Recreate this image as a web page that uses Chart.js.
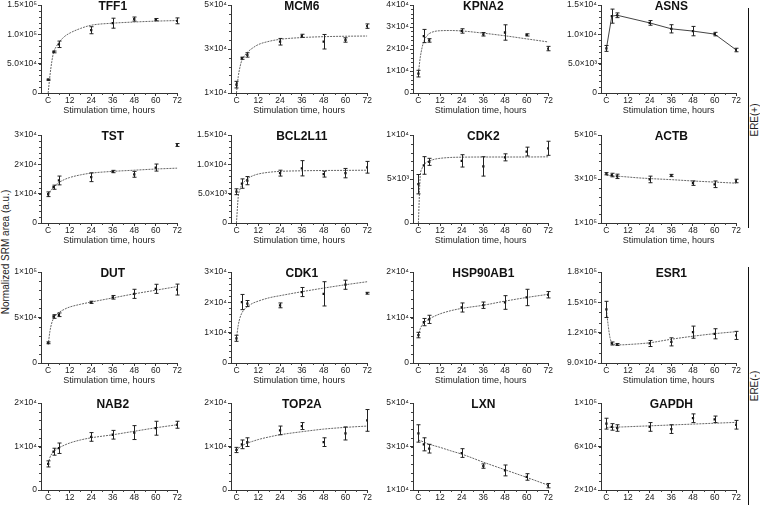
<!DOCTYPE html>
<html>
<head>
<meta charset="utf-8">
<script src="https://cdn.jsdelivr.net/npm/chart.js@4.4.0/dist/chart.umd.min.js"></script>
<style>
  body { margin: 0; background: #fff; width: 760px; height: 520px; position: relative; overflow: hidden;
         font-family: "Liberation Sans", Arial, sans-serif; color: #222; }
  canvas { position: absolute; }
  .rot { position: absolute; white-space: nowrap; font-size: 10px; line-height: 10px; transform: translate(-50%, -50%) rotate(-90deg); }
  .bracket { position: absolute; width: 0; border-left: 1.5px solid #111; }
</style>
</head>
<body>
<div class="rot" style="left:6px; top:252px;">Normalized SRM area (a.u.)</div>
<div class="bracket" style="left:748px; top:8px; height:220px;"></div>
<div class="rot" style="left:755px; top:120px;">ERE(+)</div>
<div class="bracket" style="left:748px; top:267px; height:238px;"></div>
<div class="rot" style="left:755px; top:386px;">ERE(-)</div>

<script>
// time points (C = control, plotted at 0)
const hours = [0, 3, 6, 24, 36, 48, 60, 72];
const fitHours = [0, 1, 2, 3, 4.5, 6, 9, 12, 18, 24, 36, 48, 60, 72];
const xTicks = [0, 12, 24, 36, 48, 60, 72];
const xTickLabels = ['C', '12', '24', '36', '48', '60', '72'];

// ERE(+)
const tff1Mean = [2.26e4, 7.0e4, 8.3e4, 1.07e5, 1.19e5, 1.26e5, 1.25e5, 1.23e5];
const tff1Err  = [1.0e3, 1.5e3, 5.5e3, 6.0e3, 8.5e3, 3.5e3, 2.0e3, 5.0e3];
const tff1Fit  = [0, 3.0e4, 5.3e4, 6.9e4, 7.9e4, 8.6e4, 9.6e4, 1.02e5, 1.10e5, 1.155e5, 1.19e5, 1.21e5, 1.225e5, 1.235e5];
const tff1Ticks = [0, 5e4, 1e5, 1.5e5];
const tff1Labels = ['0', '5.0×10⁴', '1.0×10⁵', '1.5×10⁵'];

const mcm6Mean = [1.38e4, 2.58e4, 2.73e4, 3.33e4, 3.6e4, 3.33e4, 3.41e4, 4.04e4];
const mcm6Err  = [1.5e3, 5e2, 1.0e3, 1.5e3, 7e2, 3.3e3, 1.0e3, 1.0e3];
const mcm6Fit  = [1.0e4, 1.75e4, 2.2e4, 2.5e4, 2.7e4, 2.85e4, 3.05e4, 3.2e4, 3.35e4, 3.44e4, 3.52e4, 3.56e4, 3.58e4, 3.59e4];
const mcm6Ticks = [1e4, 3e4, 5e4];
const mcm6Labels = ['1×10⁴', '3×10⁴', '5×10⁴'];

const kpna2Mean = [8.8e3, 2.59e4, 2.39e4, 2.82e4, 2.67e4, 2.75e4, 2.64e4, 2.02e4];
const kpna2Err  = [1.5e3, 3.0e3, 8e2, 1.0e3, 8e2, 3.5e3, 5e2, 1.0e3];
const kpna2Fit  = [0.9e4, 1.6e4, 2.05e4, 2.35e4, 2.58e4, 2.7e4, 2.8e4, 2.83e4, 2.84e4, 2.82e4, 2.72e4, 2.6e4, 2.46e4, 2.32e4];
const kpna2Ticks = [0, 1e4, 2e4, 3e4, 4e4];
const kpna2Labels = ['0', '1×10⁴', '2×10⁴', '3×10⁴', '4×10⁴'];

const asnsMean = [7.6e3, 1.31e4, 1.325e4, 1.195e4, 1.094e4, 1.055e4, 1.004e4, 7.33e3];
const asnsErr  = [5e2, 1.2e3, 4e2, 4e2, 7e2, 8e2, 3e2, 3e2];
const asnsTicks = [0, 5e3, 1e4, 1.5e4];
const asnsLabels = ['0', '5.0×10³', '1.0×10⁴', '1.5×10⁴'];

const tstMean = [9.8e3, 1.22e4, 1.45e4, 1.56e4, 1.755e4, 1.66e4, 1.89e4, 2.66e4];
const tstErr  = [8e2, 7e2, 1.5e3, 1.5e3, 4e2, 1.0e3, 1.2e3, 5e2];
const tstFit  = [0.95e4, 1.07e4, 1.15e4, 1.22e4, 1.31e4, 1.38e4, 1.48e4, 1.55e4, 1.64e4, 1.70e4, 1.76e4, 1.80e4, 1.84e4, 1.87e4];
const tstTicks = [0, 1e4, 2e4, 3e4];
const tstLabels = ['0', '1×10⁴', '2×10⁴', '3×10⁴'];

const bcl2l11Mean = [5.33e3, 6.72e3, 7.22e3, 8.5e3, 9.33e3, 8.33e3, 8.5e3, 9.5e3];
const bcl2l11Err  = [5e2, 8e2, 7e2, 5e2, 1.3e3, 5e2, 8e2, 1.0e3];
const bcl2l11Fit  = [0, 4.5e3, 5.8e3, 6.5e3, 7.1e3, 7.55e3, 8.05e3, 8.35e3, 8.65e3, 8.8e3, 8.9e3, 8.95e3, 8.97e3, 9.0e3];
const bcl2l11Ticks = [0, 5e3, 1e4, 1.5e4];
const bcl2l11Labels = ['0', '5.0×10³', '1.0×10⁴', '1.5×10⁴'];

const cdk2Mean = [4.41e3, 6.54e3, 6.95e3, 7.06e3, 6.43e3, 7.46e3, 8.12e3, 8.49e3];
const cdk2Err  = [1.1e3, 1.0e3, 4e2, 7e2, 1.1e3, 4e2, 5e2, 8e2];
const cdk2Fit  = [0, 5.3e3, 6.2e3, 6.6e3, 6.9e3, 7.05e3, 7.25e3, 7.35e3, 7.45e3, 7.48e3, 7.5e3, 7.5e3, 7.5e3, 7.52e3];
const cdk2Ticks = [0, 5e3, 1e4];
const cdk2Labels = ['0', '5×10³', '1×10⁴'];

const actbMean = [3.24e5, 3.18e5, 3.12e5, 2.98e5, 3.16e5, 2.81e5, 2.76e5, 2.91e5];
const actbErr  = [5e3, 8e3, 1.0e4, 1.5e4, 5e3, 1.0e4, 1.5e4, 8e3];
const actbFit  = [3.17e5, 3.16e5, 3.15e5, 3.15e5, 3.14e5, 3.13e5, 3.11e5, 3.09e5, 3.05e5, 3.02e5, 2.97e5, 2.91e5, 2.86e5, 2.81e5];
const actbTicks = [1e5, 3e5, 5e5];
const actbLabels = ['1×10⁵', '3×10⁵', '5×10⁵'];

// ERE(-)
const dutMean = [2.22e4, 5.11e4, 5.3e4, 6.67e4, 7.22e4, 7.6e4, 8.15e4, 8.07e4];
const dutErr  = [1.0e3, 2.0e3, 2.0e3, 1.2e3, 2.0e3, 5.0e3, 5.0e3, 6.0e3];
const dutFit  = [2.0e4, 3.5e4, 4.4e4, 4.9e4, 5.3e4, 5.55e4, 5.9e4, 6.15e4, 6.45e4, 6.7e4, 7.15e4, 7.6e4, 8.0e4, 8.4e4];
const dutTicks = [0, 5e4, 1e5];
const dutLabels = ['0', '5×10⁴', '1×10⁵'];

const cdk1Mean = [8.15e3, 2.01e4, 1.96e4, 1.9e4, 2.34e4, 2.28e4, 2.58e4, 2.3e4];
const cdk1Err  = [1.0e3, 2.5e3, 1.0e3, 8e2, 1.5e3, 4.0e3, 1.5e3, 3e2];
const cdk1Fit  = [0.8e4, 1.25e4, 1.5e4, 1.65e4, 1.78e4, 1.86e4, 1.97e4, 2.04e4, 2.15e4, 2.22e4, 2.35e4, 2.47e4, 2.58e4, 2.68e4];
const cdk1Ticks = [0, 1e4, 2e4, 3e4];
const cdk1Labels = ['0', '1×10⁴', '2×10⁴', '3×10⁴'];

const hspMean = [6.14e3, 8.99e3, 9.59e3, 1.22e4, 1.27e4, 1.33e4, 1.44e4, 1.5e4];
const hspErr  = [6e2, 8e2, 9e2, 1.0e3, 7e2, 1.5e3, 1.8e3, 7e2];
const hspFit  = [0.6e4, 0.75e4, 0.83e4, 0.88e4, 0.93e4, 0.97e4, 1.03e4, 1.08e4, 1.15e4, 1.2e4, 1.27e4, 1.36e4, 1.44e4, 1.51e4];
const hspTicks = [0, 1e4, 2e4];
const hspLabels = ['0', '1×10⁴', '2×10⁴'];

const esr1Mean = [1.43e5, 1.093e5, 1.083e5, 1.093e5, 1.109e5, 1.205e5, 1.189e5, 1.173e5];
const esr1Err  = [8.0e3, 1.5e3, 1.0e3, 3.0e3, 4.0e3, 6.0e3, 5.0e3, 4.0e3];
const esr1Fit  = [1.43e5, 1.27e5, 1.15e5, 1.10e5, 1.085e5, 1.08e5, 1.08e5, 1.083e5, 1.09e5, 1.10e5, 1.135e5, 1.165e5, 1.19e5, 1.21e5];
const esr1Ticks = [9e4, 1.2e5, 1.5e5, 1.8e5];
const esr1Labels = ['9.0×10⁴', '1.2×10⁵', '1.5×10⁵', '1.8×10⁵'];

const nab2Mean = [6.0e3, 8.8e3, 9.6e3, 1.22e4, 1.27e4, 1.32e4, 1.42e4, 1.5e4];
const nab2Err  = [7e2, 8e2, 1.2e3, 1.0e3, 1.0e3, 1.6e3, 1.6e3, 8e2];
const nab2Fit  = [0.6e4, 0.75e4, 0.83e4, 0.88e4, 0.93e4, 0.97e4, 1.03e4, 1.08e4, 1.15e4, 1.2e4, 1.27e4, 1.35e4, 1.43e4, 1.5e4];
const nab2Ticks = [0, 1e4, 2e4];
const nab2Labels = ['0', '1×10⁴', '2×10⁴'];

const top2aMean = [9.2e3, 1.05e4, 1.1e4, 1.37e4, 1.47e4, 1.1e4, 1.3e4, 1.6e4];
const top2aErr  = [6e2, 1.0e3, 1.0e3, 1.0e3, 8e2, 1.0e3, 1.5e3, 2.5e3];
const top2aFit  = [9.0e3, 9.5e3, 9.9e3, 1.02e4, 1.05e4, 1.08e4, 1.12e4, 1.16e4, 1.22e4, 1.27e4, 1.34e4, 1.4e4, 1.44e4, 1.47e4];
const top2aTicks = [0, 1e4, 2e4];
const top2aLabels = ['0', '1×10⁴', '2×10⁴'];

const lxnMean = [3.6e4, 3.1e4, 2.9e4, 2.7e4, 2.1e4, 1.9e4, 1.6e4, 1.2e4];
const lxnErr  = [4.0e3, 3.0e3, 2.0e3, 2.0e3, 1.0e3, 2.5e3, 1.5e3, 1.0e3];
const lxnFit  = [3.3e4, 3.27e4, 3.24e4, 3.2e4, 3.15e4, 3.1e4, 3.03e4, 2.96e4, 2.8e4, 2.65e4, 2.28e4, 1.93e4, 1.58e4, 1.22e4];
const lxnTicks = [1e4, 3e4, 5e4];
const lxnLabels = ['1×10⁴', '3×10⁴', '5×10⁴'];

const gapdhMean = [8.1e4, 7.8e4, 7.7e4, 7.8e4, 7.6e4, 8.6e4, 8.5e4, 8.0e4];
const gapdhErr  = [5.0e3, 3.0e3, 3.0e3, 4.0e3, 4.0e3, 4.0e3, 3.0e3, 4.0e3];
const gapdhFit  = [7.75e4, 7.76e4, 7.77e4, 7.77e4, 7.78e4, 7.79e4, 7.8e4, 7.82e4, 7.86e4, 7.9e4, 7.98e4, 8.06e4, 8.14e4, 8.22e4];
const gapdhTicks = [2e4, 6e4, 1e5];
const gapdhLabels = ['2×10⁴', '6×10⁴', '1×10⁵'];

const panels = [
  { gene: 'TFF1', mean: tff1Mean, err: tff1Err, fit: tff1Fit, ticks: tff1Ticks, labels: tff1Labels, minor: 1e4 },
  { gene: 'MCM6', mean: mcm6Mean, err: mcm6Err, fit: mcm6Fit, ticks: mcm6Ticks, labels: mcm6Labels, minor: 4e3 },
  { gene: 'KPNA2', mean: kpna2Mean, err: kpna2Err, fit: kpna2Fit, ticks: kpna2Ticks, labels: kpna2Labels, minor: 2e3 },
  { gene: 'ASNS', mean: asnsMean, err: asnsErr, fit: null, ticks: asnsTicks, labels: asnsLabels, minor: 1e3 },
  { gene: 'TST', mean: tstMean, err: tstErr, fit: tstFit, ticks: tstTicks, labels: tstLabels, minor: 2e3 },
  { gene: 'BCL2L11', mean: bcl2l11Mean, err: bcl2l11Err, fit: bcl2l11Fit, ticks: bcl2l11Ticks, labels: bcl2l11Labels, minor: 1e3 },
  { gene: 'CDK2', mean: cdk2Mean, err: cdk2Err, fit: cdk2Fit, ticks: cdk2Ticks, labels: cdk2Labels, minor: 1e3 },
  { gene: 'ACTB', mean: actbMean, err: actbErr, fit: actbFit, ticks: actbTicks, labels: actbLabels, minor: 4e4 },
  { gene: 'DUT', mean: dutMean, err: dutErr, fit: dutFit, ticks: dutTicks, labels: dutLabels, minor: 1e4 },
  { gene: 'CDK1', mean: cdk1Mean, err: cdk1Err, fit: cdk1Fit, ticks: cdk1Ticks, labels: cdk1Labels, minor: 2e3 },
  { gene: 'HSP90AB1', mean: hspMean, err: hspErr, fit: hspFit, ticks: hspTicks, labels: hspLabels, minor: 2e3 },
  { gene: 'ESR1', mean: esr1Mean, err: esr1Err, fit: esr1Fit, ticks: esr1Ticks, labels: esr1Labels, minor: 1e4 },
  { gene: 'NAB2', mean: nab2Mean, err: nab2Err, fit: nab2Fit, ticks: nab2Ticks, labels: nab2Labels, minor: 2e3 },
  { gene: 'TOP2A', mean: top2aMean, err: top2aErr, fit: top2aFit, ticks: top2aTicks, labels: top2aLabels, minor: 2e3 },
  { gene: 'LXN', mean: lxnMean, err: lxnErr, fit: lxnFit, ticks: lxnTicks, labels: lxnLabels, minor: 4e3 },
  { gene: 'GAPDH', mean: gapdhMean, err: gapdhErr, fit: gapdhFit, ticks: gapdhTicks, labels: gapdhLabels, minor: 8e3 }
];

// plot-area placement on the page
const colLeft = [41, 231, 413, 601];
const colRight = [178, 368, 549, 737];
const colXMin = [-4, -3, -3, -3];
const rowTop = [5, 135, 272, 403];
const rowBottom = [93, 223, 363, 490];

const Y_W = 40, PAD_T = 10, PAD_R = 4, X_H = 24;
const FONT = '"Liberation Sans", Arial, sans-serif';
const INK = '#222';

// error bars, minor ticks and the gene title
const panelExtras = {
  id: 'panelExtras',
  afterDatasetsDraw(chart) {
    const p = chart.options.plugins.panelExtras;
    const xs = chart.scales.x, ys = chart.scales.y;
    const ctx = chart.ctx;
    ctx.save();
    ctx.strokeStyle = INK;
    ctx.lineWidth = 1;
    p.mean.forEach((m, i) => {
      const x = Math.round(xs.getPixelForValue(hours[i])) + 0.5;
      const y1 = ys.getPixelForValue(m - p.err[i]);
      const y2 = ys.getPixelForValue(m + p.err[i]);
      ctx.beginPath();
      ctx.moveTo(x, y1); ctx.lineTo(x, y2);
      ctx.moveTo(x - 2, y1); ctx.lineTo(x + 2, y1);
      ctx.moveTo(x - 2, y2); ctx.lineTo(x + 2, y2);
      ctx.stroke();
    });
    // minor ticks
    ctx.strokeStyle = '#444';
    const a = chart.chartArea;
    ctx.beginPath();
    const yMin = p.ticks[0], yMax = p.ticks[p.ticks.length - 1];
    for (let v = yMin; v <= yMax + 1e-9; v += p.minor) {
      const y = Math.round(ys.getPixelForValue(v)) + 0.5;
      ctx.moveTo(a.left - 2, y); ctx.lineTo(a.left, y);
    }
    for (let h = 6; h < 72; h += 12) {
      const x = Math.round(xs.getPixelForValue(h)) + 0.5;
      ctx.moveTo(x, a.bottom); ctx.lineTo(x, a.bottom + 2);
    }
    ctx.stroke();
    // title
    ctx.fillStyle = '#111';
    ctx.font = 'bold 12px ' + FONT;
    ctx.textAlign = 'center';
    ctx.textBaseline = 'middle';
    ctx.fillText(p.gene, xs.getPixelForValue(36), a.top + 2);
    ctx.restore();
  }
};

panels.forEach((p, k) => {
  const r = Math.floor(k / 4), c = k % 4;
  const plotW = colRight[c] - colLeft[c];
  const plotH = rowBottom[r] - rowTop[r];
  const cv = document.createElement('canvas');
  cv.width = plotW + Y_W + PAD_R;
  cv.height = plotH + PAD_T + X_H;
  cv.style.left = (colLeft[c] - Y_W) + 'px';
  cv.style.top = (rowTop[r] - PAD_T) + 'px';
  document.body.appendChild(cv);

  const pts = hours.map((h, i) => ({ x: h, y: p.mean[i] }));
  const line = p.fit
    ? fitHours.map((h, i) => ({ x: h, y: p.fit[i] }))
    : pts;

  new Chart(cv, {
    type: 'scatter',
    data: {
      datasets: [
        {
          data: pts, showLine: false, pointStyle: 'rect', pointRadius: 1.6,
          backgroundColor: '#111', borderColor: '#111', borderWidth: 0
        },
        {
          data: line, showLine: true, pointRadius: 0,
          borderColor: p.fit ? '#666' : '#444', borderWidth: 1,
          borderDash: p.fit ? [2, 1] : [],
          cubicInterpolationMode: p.fit ? 'monotone' : 'default', tension: 0
        }
      ]
    },
    options: {
      responsive: false,
      animation: false,
      events: [],
      layout: { autoPadding: false, padding: { top: PAD_T, right: PAD_R, left: 0, bottom: 0 } },
      plugins: { legend: { display: false }, tooltip: { enabled: false }, panelExtras: p },
      scales: {
        x: {
          type: 'linear', min: colXMin[c], max: 72,
          afterBuildTicks: s => { s.ticks = xTicks.map(v => ({ value: v })); },
          afterFit: s => { s.height = X_H; },
          ticks: {
            autoSkip: false, maxRotation: 0, padding: 0, color: INK,
            font: { family: FONT, size: 8.5 },
            callback: (v, i) => xTickLabels[i]
          },
          grid: { display: true, drawOnChartArea: false, drawTicks: true, tickLength: 3, color: '#333' },
          border: { display: true, color: '#333', width: 1 },
          title: {
            display: r < 3, text: 'Stimulation time, hours', color: INK,
            font: { family: FONT, size: 9 }, padding: { top: 0, bottom: 1 }
          }
        },
        y: {
          type: 'linear', min: p.ticks[0], max: p.ticks[p.ticks.length - 1],
          afterBuildTicks: s => { s.ticks = p.ticks.map(v => ({ value: v })); },
          afterFit: s => { s.width = Y_W; },
          ticks: {
            autoSkip: false, padding: 1, color: INK,
            font: { family: FONT, size: 8.5 },
            callback: (v, i) => p.labels[i]
          },
          grid: { display: true, drawOnChartArea: false, drawTicks: true, tickLength: 3, color: '#333' },
          border: { display: true, color: '#333', width: 1 }
        }
      }
    },
    plugins: [panelExtras]
  });
});
</script>
</body>
</html>
